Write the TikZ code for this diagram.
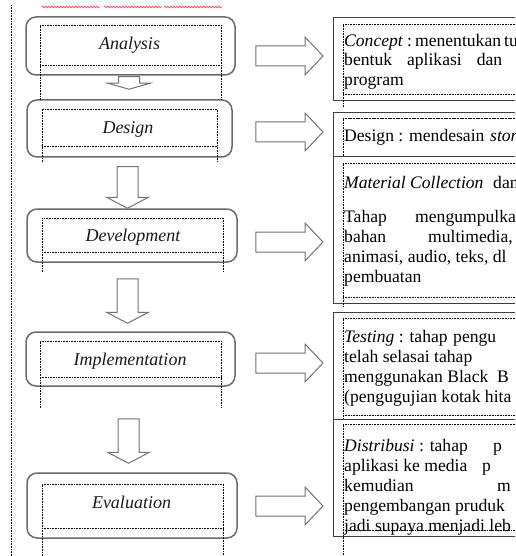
\documentclass[tikz,border=0pt]{standalone}
\usepackage{fontspec}
\setmainfont{Liberation Serif}
\usetikzlibrary{positioning}
\usetikzlibrary{calc}
\usetikzlibrary{decorations.pathmorphing}

\begin{document}
\begin{tikzpicture}[x=1pt, y=-1pt,
        stage/.style={draw=black!58, line width=1.5pt, rounded corners=10pt, inner sep=0pt},
        lbl/.style={font=\fontsize{18}{20}\selectfont\itshape, text=black!90, anchor=base, inner sep=0pt},
        desc/.style={draw=black!75, line width=1.1pt, anchor=north west, inner sep=0pt, minimum width=200pt},
        wd/.style={font=\fontsize{17.6}{20}\selectfont, anchor=base west, inner sep=0pt},
        frame/.style={line width=0.6pt, dash pattern=on 0.8pt off 0.8pt},
        darr/.style={draw=black!55, fill=white, line width=1pt,
            to path={let \p1=(\tikztostart), \p2=(\tikztotarget) in
                (\x1-10.5pt,\y1) -- (\x1+10.5pt,\y1) -- (\x1+10.5pt,\y2+#1) -- (\x1+21pt,\y2+#1)
                -- (\x1,\y2) -- (\x1-21pt,\y2+#1) -- (\x1-10.5pt,\y2+#1) -- cycle}},
        rarr/.style={draw=black!55, fill=white, line width=1pt,
            to path={let \p1=(\tikztostart), \p2=(\tikztotarget) in
                (\x1,\y1+10pt) -- (\x2-18pt,\y1+10pt) -- (\x2-18pt,\y1+19pt) -- (\x2,\y1)
                -- (\x2-18pt,\y1-19pt) -- (\x2-18pt,\y1-10pt) -- (\x1,\y1-10pt) -- cycle}}]
    \useasboundingbox (0,0) rectangle (515,556);
    \clip (0,0) rectangle (515,556);

    % margin line and spelling marks
    \draw[frame] (11,5) -- (11,556);
    \foreach \a/\b in {42/100, 104/162, 164/222}
        \draw[red!70, line width=0.7pt, decorate, decoration={zigzag, segment length=3pt, amplitude=0.9pt}] (\a,7) -- (\b,7);

    % stages
    \node[stage, minimum width=209pt, minimum height=58pt] (ana) at (130.5,46) {};
    \node[stage, minimum width=205pt, minimum height=57pt] (dsg) at (129.5,128.5) {};
    \node[stage, minimum width=210pt, minimum height=53pt] (dev) at (132,235.5) {};
    \node[stage, minimum width=209pt, minimum height=54pt] (imp) at (130.5,359) {};
    \node[stage, minimum width=210pt, minimum height=65pt] (evl) at (132,505.5) {};

    \foreach \a/\b/\t/\u/\e in {40/221/25/65/100, 42/217/109/146/162, 42/223/218/252/272,
                                 40/221/341/377/408, 42/223/484/528/556} {
        \draw[frame] (\a,\e) -- (\a,\t) -- (\b,\t) -- (\b,\e);
        \draw[frame, line width=0.9pt] (\a,\u) -- (\b,\u);
    }

    \node[lbl] (anat) at (129.5,50) {Analysis};
    \node[lbl] (dsgt) at (128,133.5) {Design};
    \node[lbl] (devt) at (133,241.5) {Development};
    \node[lbl] (impt) at (130,365) {Implementation};
    \node[lbl] (evlt) at (131.5,508) {Evaluation};

    % descriptions
    \node[desc, minimum height=83pt] (tcpt) at (333,17) {};
    \node[desc, minimum height=44pt] (tdsg) at (333,112) {};
    \node[desc, minimum height=147pt] (tmat) at (333,156) {};
    \node[desc, minimum height=107pt] (ttst) at (333,312) {};
    \node[desc, minimum height=117pt] (tdst) at (333,419) {};

    \foreach \t/\u/\e in {24/94/107, 118/118/156, 163/297/307, 318/415/419, 424/530/556} {
        \draw[frame] (520,\t) -- (343,\t) -- (343,\e);
        \draw[frame, line width=0.9pt] (343,\u) -- (520,\u);
    }

    \foreach \x/\y/\t [count=\i] in {
        344/47/{\textit{Concept}\hspace{4pt}:\hspace{3pt}menentukan\hspace{3pt}tuj},
        344/66/{\makebox[158pt][s]{bentuk aplikasi dan}},
        344/86/{program},
        344/142/{Design : mendesain}, 490/142/{\textit{stor}},
        344/188/{\textit{Material Collection}}, 493/188/{dan},
        344/222/{Tahap}, 415/222/{mengumpulka},
        344/242/{bahan}, 428/242/{multimedia,},
        344/262/{animasi, audio, teks, dl},
        344/282/{pembuatan},
        344/342/{\textit{Testing} : tahap}, 453/342/{pengu},
        344/362/{telah selasai}, 434/362/{tahap},
        344/382/{menggunakan Black}, 497/382/{B},
        344/402/{(pengugujian kotak hita},
        344/451/{\textit{Distribusi} : tahap}, 493/451/{p},
        344/471/{aplikasi ke media}, 482/471/{p},
        344/491/{kemudian}, 497/491/{m},
        344/511/{pengembangan pruduk},
        344/531/{jadi supaya menjadi leb}}
        \node[wd] (w\i) at (\x,\y) {\t};

    % flow arrows
    \draw[darr=6pt] ($(ana.south)+(-1.5,1)$) to ($(dsg.north)+(0,-10)$);
    \draw[darr=11pt] ($(dsg.south)+(-2,9)$) to (dev.north);
    \draw[darr=11pt] ($(dev.south)+(-4.5,16)$) to ($(imp.north)+(0,-8)$);
    \draw[darr=11pt] ($(imp.south)+(-2,32)$) to ($(evl.north)+(0,-9)$);

    \draw[rarr] ($(ana.east)+(20,10)$) to ($(tcpt.west)+(-10,0)$);
    \draw[rarr] ($(dsg.east)+(23,3.5)$) to ($(tdsg.west)+(-10,0)$);
    \draw[rarr] ($(dev.east)+(18,6.5)$) to ($(tmat.west)+(-10,0)$);
    \draw[rarr] ($(imp.east)+(20,4)$) to ($(ttst.west)+(-10,0)$);
    \draw[rarr] ($(evl.east)+(18,0.5)$) to ($(tdst.west)+(-10,0)$);
\end{tikzpicture}
\end{document}
